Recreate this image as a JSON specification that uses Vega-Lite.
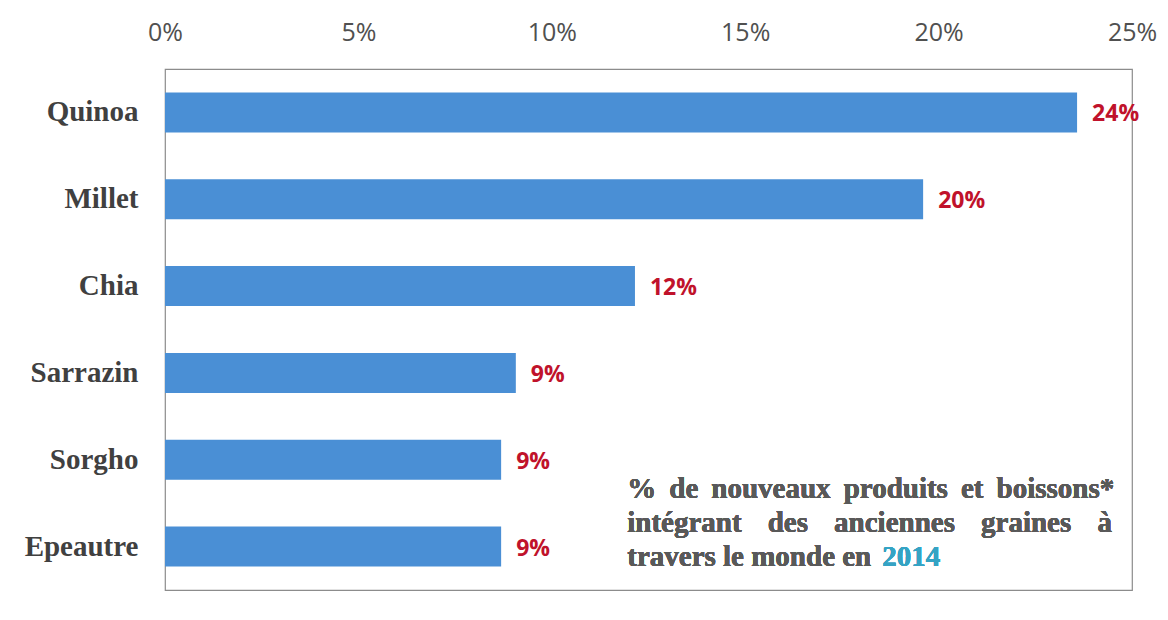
{
  "$schema": "https://vega.github.io/schema/vega-lite/v6.json",
  "autosize": "none",
  "width": 967,
  "height": 521,
  "padding": {"left": 165, "top": 69, "right": 36, "bottom": 30},
  "background": "white",
  "config": {
    "view": {"stroke": "#8c8c8c", "strokeWidth": 1.2},
    "axis": {"grid": false, "domain": false, "ticks": false}
  },
  "data": {
    "values": [
      {"grain": "Quinoa", "share": 0.2358},
      {"grain": "Millet", "share": 0.196},
      {"grain": "Chia", "share": 0.1215},
      {"grain": "Sarrazin", "share": 0.0907},
      {"grain": "Sorgho", "share": 0.0869},
      {"grain": "Epeautre", "share": 0.0869}
    ]
  },
  "encoding": {
    "y": {
      "field": "grain", "type": "nominal", "sort": null,
      "scale": {"paddingInner": 0.54, "paddingOuter": 0.27},
      "axis": {
        "title": null, "labelFont": "Liberation Serif", "labelFontWeight": "bold",
        "labelFontSize": 29, "labelColor": "#404040", "labelPadding": 27
      }
    }
  },
  "layer": [
    {
      "mark": {"type": "bar", "color": "#4a8fd5"},
      "encoding": {
        "x": {
          "field": "share", "type": "quantitative",
          "scale": {"domain": [0, 0.25], "nice": false},
          "axis": {
            "orient": "top", "title": null, "format": ".0%", "values": [0, 0.05, 0.1, 0.15, 0.2, 0.25],
            "labelFlush": false,
            "labelFont": "Open Sans", "labelFontSize": 25, "labelColor": "#505050", "labelPadding": 24
          }
        }
      }
    },
    {
      "mark": {"type": "text", "align": "left", "baseline": "middle", "dx": 15, "dy": 2,
               "font": "Open Sans", "fontWeight": "bold", "fontSize": 23, "color": "#c0122b"},
      "encoding": {
        "x": {"field": "share", "type": "quantitative"},
        "text": {"field": "share", "type": "quantitative", "format": ".0%"}
      }
    },
    {
      "mark": {"type": "text", "align": "left", "baseline": "middle", "dy": -58, "lineHeight": 34,
               "font": "Liberation Serif", "fontWeight": "bold", "fontSize": 29, "color": "#595959",
               "text": ["% \u2009de \u2009nouveaux \u2009produits \u2009et \u2009boissons*", "intégrant\u00a0\u2009\u2009 des\u00a0\u2009\u2009 anciennes\u00a0\u2009\u2009 graines\u00a0\u2009\u2009 à", "travers le monde en"]},
      "encoding": {
        "x": {"datum": 0.1195, "type": "quantitative"},
        "y": {"datum": "Epeautre", "type": "nominal"}
      }
    },
    {
      "mark": {"type": "text", "align": "left", "baseline": "middle", "dy": 10,
               "font": "Liberation Serif", "fontWeight": "bold", "fontSize": 29, "color": "#35a3c4",
               "text": "2014"},
      "encoding": {
        "x": {"datum": 0.1854, "type": "quantitative"},
        "y": {"datum": "Epeautre", "type": "nominal"}
      }
    }
  ]
}
